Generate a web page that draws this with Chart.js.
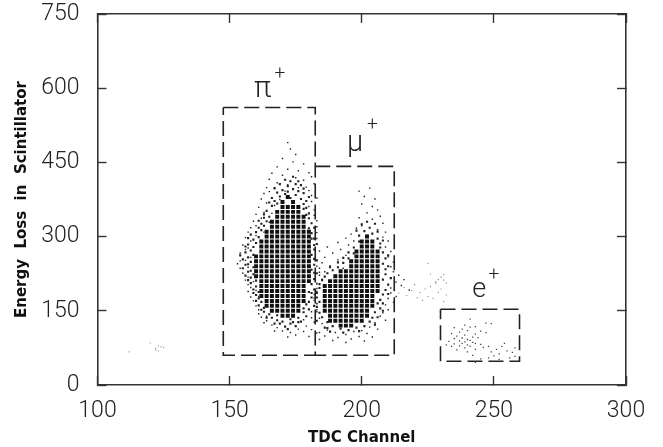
<!DOCTYPE html>
<html>
<head>
<meta charset="utf-8">
<title>TDC Channel vs Energy Loss</title>
<script src="https://cdn.jsdelivr.net/npm/chart.js@4"></script>
<style>
  html, body { margin: 0; padding: 0; background: #fff; }
  canvas { display: block; }
</style>
</head>
<body>
<canvas id="scatter" width="663" height="447"></canvas>
<script>
const xTicks = [100, 150, 200, 250, 300];
const yTicks = [0, 150, 300, 450, 600, 750];

// dashed selection boxes
const pionBoxX = [147.6, 182.4, 182.4, 147.6, 147.6];
const pionBoxY = [561, 561, 60, 60, 561];
const muonBoxX = [182.4, 212.3, 212.3, 182.4];
const muonBoxY = [442, 442, 60, 60];
const positronBoxX = [229.8, 259.7, 259.7, 229.8, 229.8];
const positronBoxY = [153, 153, 48, 48, 153];

// dense parts of the two blobs, read as [energy, channels...] per row
const pionCore = [
  [380, 172],
  [370, 170, 174],
  [360, 170, 172, 174, 176],
  [350, 168, 170, 172, 174, 176],
  [340, 168, 170, 172, 174, 176, 178],
  [330, 166, 168, 170, 172, 174, 176, 178],
  [320, 166, 168, 170, 172, 174, 176, 178],
  [310, 164, 166, 168, 170, 172, 174, 176, 178, 180],
  [300, 164, 166, 168, 170, 172, 174, 176, 178, 180],
  [290, 162, 164, 166, 168, 170, 172, 174, 176, 178, 180],
  [280, 162, 164, 166, 168, 170, 172, 174, 176, 178, 180],
  [270, 162, 164, 166, 168, 170, 172, 174, 176, 178, 180],
  [260, 160, 162, 164, 166, 168, 170, 172, 174, 176, 178, 180],
  [250, 160, 162, 164, 166, 168, 170, 172, 174, 176, 178, 180],
  [240, 160, 162, 164, 166, 168, 170, 172, 174, 176, 178, 180],
  [230, 160, 162, 164, 166, 168, 170, 172, 174, 176, 178, 180],
  [220, 160, 162, 164, 166, 168, 170, 172, 174, 176, 178, 180],
  [210, 162, 164, 166, 168, 170, 172, 174, 176, 178, 180],
  [200, 162, 164, 166, 168, 170, 172, 174, 176, 178],
  [190, 162, 164, 166, 168, 170, 172, 174, 176, 178],
  [180, 162, 164, 166, 168, 170, 172, 174, 176, 178],
  [170, 164, 166, 168, 170, 172, 174, 176, 178],
  [160, 164, 166, 168, 170, 172, 174, 176],
  [150, 166, 168, 170, 172, 174, 176],
  [140, 170, 172, 174]
];
const muonCore = [
  [300, 202],
  [290, 200, 202, 204],
  [280, 200, 202, 204],
  [270, 198, 200, 202, 204, 206],
  [260, 198, 200, 202, 204, 206],
  [250, 196, 198, 200, 202, 204, 206],
  [240, 196, 198, 200, 202, 204, 206],
  [230, 192, 194, 196, 198, 200, 202, 204, 206],
  [220, 190, 192, 194, 196, 198, 200, 202, 204, 206],
  [210, 188, 190, 192, 194, 196, 198, 200, 202, 204, 206],
  [200, 186, 188, 190, 192, 194, 196, 198, 200, 202, 204, 206],
  [190, 186, 188, 190, 192, 194, 196, 198, 200, 202, 204, 206],
  [180, 186, 188, 190, 192, 194, 196, 198, 200, 202, 204],
  [170, 186, 188, 190, 192, 194, 196, 198, 200, 202, 204],
  [160, 186, 188, 190, 192, 194, 196, 198, 200, 202, 204],
  [150, 186, 188, 190, 192, 194, 196, 198, 200, 202],
  [140, 188, 190, 192, 194, 196, 198, 200, 202],
  [130, 188, 190, 192, 194, 196, 198, 200],
  [120, 192, 194, 196]
];

// speckle along the edge of the dense parts
const pionEdge = [
  [164, 352], [165, 340], [163, 338], [166, 362], [162, 326], [164, 331], [161, 318], [163, 322], [160, 309], [162, 313],
  [158, 304], [161, 299], [159, 294], [160, 287], [157, 284], [159, 279], [158, 272], [156, 268], [159, 263], [157, 258],
  [155, 254], [158, 249], [156, 243], [159, 238], [155, 236], [157, 229], [159, 224], [158, 217], [156, 221], [160, 211],
  [158, 206], [160, 199], [159, 193], [161, 188], [160, 182], [161, 175], [162, 168], [161, 161], [163, 156], [163, 148],
  [165, 143], [166, 136], [168, 131], [167, 124], [182, 318], [181, 307], [182, 296], [183, 285], [182, 274], [181, 263],
  [183, 252], [182, 243], [181, 233], [183, 226], [182, 214], [181, 204], [182, 193], [180, 188], [181, 177], [180, 168],
  [182, 160], [180, 153], [178, 147], [179, 139], [176, 136], [177, 128], [174, 127], [181, 327], [180, 337], [180, 347],
  [179, 358], [178, 366], [167, 372], [169, 381], [171, 386], [173, 378], [175, 384], [177, 376], [170, 394], [172, 402],
  [174, 396], [176, 392], [168, 389], [178, 388], [173, 412], [175, 406], [171, 415], [177, 404], [179, 372], [166, 378],
  [169, 124], [171, 118], [173, 124], [172, 113], [175, 119], [170, 128], [167, 398], [169, 406], [172, 391], [176, 412],
  [174, 421], [178, 397], [180, 380], [165, 369], [168, 367], [178, 356], [179, 344], [163, 345], [161, 332], [180, 317],
  [157, 297], [156, 280], [154, 262], [157, 244], [158, 231], [157, 212], [159, 186], [160, 170], [162, 152], [164, 136],
  [181, 296], [182, 283], [182, 255], [182, 227], [181, 186], [179, 163], [178, 155], [176, 127], [173, 133], [168, 141]
];
const muonEdge = [
  [184, 196], [183, 186], [184, 204], [185, 212], [186, 219], [187, 226], [189, 232], [191, 238], [193, 247], [195, 256],
  [197, 266], [197, 278], [199, 290], [199, 302], [201, 311], [204, 306], [206, 296], [207, 286], [203, 318], [205, 326],
  [202, 330], [207, 278], [208, 268], [209, 256], [208, 245], [209, 234], [209, 224], [208, 213], [210, 203], [209, 192],
  [208, 183], [207, 172], [206, 165], [207, 155], [205, 147], [204, 136], [203, 128], [201, 119], [198, 116], [195, 111],
  [192, 114], [189, 119], [187, 127], [185, 137], [184, 146], [183, 158], [184, 168], [183, 177], [188, 108], [186, 116],
  [193, 257], [191, 248], [188, 238], [195, 268], [198, 312], [200, 325], [206, 310], [208, 292], [210, 262], [210, 240],
  [211, 216], [210, 184], [208, 165], [208, 150], [206, 137], [205, 122], [199, 109], [193, 106], [187, 115], [183, 130]
];

// loose points round the blobs
const pionHalo = [
  [172, 490], [173, 477], [175, 466], [170, 458], [174, 451], [178, 447], [168, 441], [172, 436], [176, 433], [180, 429],
  [166, 428], [170, 424], [175, 419], [178, 414], [181, 421], [165, 416], [168, 409], [172, 405], [179, 400], [182, 407],
  [164, 399], [167, 397], [171, 392], [176, 399], [180, 393], [163, 387], [165, 391], [169, 375], [174, 371], [181, 383],
  [162, 376], [164, 368], [167, 363], [181, 371], [183, 378], [161, 359], [163, 349], [166, 347], [180, 361], [182, 354],
  [160, 345], [162, 337], [165, 329], [182, 343], [183, 332], [159, 331], [160, 322], [163, 309], [183, 320], [158, 318],
  [157, 309], [160, 302], [183, 308], [156, 298], [158, 291], [157, 277], [183, 296], [155, 283], [156, 274], [154, 267],
  [158, 258], [184, 271], [154, 251], [153, 245], [156, 252], [157, 238], [183, 240], [154, 236], [155, 226], [157, 218],
  [184, 228], [156, 212], [157, 203], [159, 209], [183, 204], [158, 197], [157, 189], [160, 191], [183, 189], [158, 178],
  [159, 170], [161, 179], [182, 176], [160, 160], [161, 152], [183, 165], [161, 144], [164, 139], [162, 137], [181, 148],
  [183, 152], [164, 130], [166, 121], [163, 126], [178, 132], [181, 136], [168, 116], [170, 109], [173, 106], [176, 113],
  [179, 119], [182, 127], [167, 109], [175, 101], [178, 108], [181, 112], [172, 97], [180, 98], [183, 105], [184, 92]
];
const muonHalo = [
  [203, 398], [199, 392], [201, 381], [205, 376], [200, 366], [204, 361], [206, 354], [202, 348], [207, 341], [199, 338],
  [204, 335], [208, 327], [200, 322], [198, 317], [206, 314], [209, 309], [196, 305], [202, 303], [208, 299], [194, 297],
  [197, 291], [210, 291], [191, 288], [195, 283], [209, 279], [187, 279], [192, 274], [211, 270], [189, 267], [194, 262],
  [210, 259], [186, 258], [191, 253], [212, 248], [185, 247], [188, 241], [193, 236], [211, 239], [184, 236], [186, 229],
  [212, 229], [214, 222], [184, 222], [185, 214], [211, 217], [213, 208], [216, 213], [183, 206], [211, 196], [215, 201],
  [183, 195], [182, 183], [211, 186], [213, 179], [218, 192], [182, 171], [210, 175], [212, 167], [209, 162], [183, 164],
  [210, 152], [208, 146], [183, 148], [184, 135], [207, 139], [209, 131], [205, 126], [185, 124], [203, 117], [206, 113],
  [187, 111], [190, 106], [194, 102], [197, 108], [200, 110], [202, 104], [186, 99], [191, 96], [196, 93], [199, 98],
  [204, 97], [184, 106], [189, 90], [194, 86], [201, 89]
];
const positronPoints = [
  [241, 133], [247, 125], [249, 124], [239, 121], [243, 118], [235, 116], [238, 113], [241, 117], [245, 109], [237, 107],
  [240, 110], [243, 103], [247, 106], [234, 104], [236, 99], [239, 101], [242, 97], [238, 95], [240, 92], [244, 96],
  [235, 94], [237, 89], [239, 87], [241, 90], [243, 84], [233, 88], [235, 83], [238, 84], [240, 81], [242, 86],
  [245, 82], [232, 81], [234, 78], [237, 79], [239, 75], [241, 78], [243, 72], [246, 76], [240, 67], [242, 60],
  [236, 71], [248, 78], [249, 67], [251, 72], [252, 63], [250, 59], [253, 78], [255, 69], [257, 66], [254, 84],
  [248, 55], [245, 53], [243, 46], [256, 55], [258, 58], [252, 52], [258, 75]
];
// pale scatter between the boxes and at the far left
const bridgePoints = [
  [214, 186], [216, 197], [217, 181], [219, 191], [220, 203], [221, 176], [222, 187], [223, 171], [224, 194], [225, 179],
  [226, 199], [227, 175], [228, 206], [229, 187], [230, 194], [231, 169], [225, 246], [226, 224], [228, 209], [229, 213],
  [230, 218], [231, 212], [232, 206], [232, 182], [231, 223]
];
const farLeftPoints = [
  [112, 67], [120, 85], [122, 71], [123, 69], [124, 77], [125, 76], [123, 79], [122, 74]
];

// annotations: [text, channel, energy, font size]
const annotations = [
  ['\u03c0', 162.5, 597, 29],
  ['+', 169, 628, 19],
  ['\u03bc', 197.5, 488, 29],
  ['+', 204, 525, 19],
  ['e', 244.5, 192, 27],
  ['+', 250, 222, 19]
];

const thinFont = 'Roboto';
const boldFont = '"DejaVu Sans"';

const toPoints = (xs, ys) => xs.map((x, i) => ({ x: x, y: ys[i] }));
const pairsToPoints = (pairs) => pairs.map((p) => ({ x: p[0], y: p[1] }));
const rowsToPoints = (rows) => {
  const pts = [];
  rows.forEach((row) => {
    row.slice(1).forEach((x) => pts.push({ x: x, y: row[0] }));
  });
  return pts;
};

const boxDataset = (xs, ys) => ({
  type: 'line',
  data: toPoints(xs, ys),
  borderColor: '#222',
  borderWidth: 1.6,
  borderDash: [15, 6],
  pointRadius: 0,
  fill: false,
  tension: 0
});

const dotDataset = (points, colour, radius) => ({
  data: points,
  pointStyle: 'rect',
  pointRadius: radius,
  pointBorderWidth: 0,
  backgroundColor: colour,
  borderColor: colour
});

const inwardTicks = {
  drawOnChartArea: false,
  drawTicks: true,
  tickLength: -9,
  tickWidth: 1.4,
  tickColor: '#333'
};
const axisBorder = { display: true, color: '#333', width: 1.6 };

const annotationPlugin = {
  id: 'annotationText',
  afterDraw(chart) {
    const c = chart.ctx;
    c.save();
    c.fillStyle = '#222';
    c.textAlign = 'center';
    c.textBaseline = 'middle';
    annotations.forEach((a) => {
      c.font = '300 ' + a[3] + 'px ' + thinFont;
      c.fillText(a[0], chart.scales.x.getPixelForValue(a[1]), chart.scales.y.getPixelForValue(a[2]));
    });
    c.restore();
  }
};

new Chart(document.getElementById('scatter').getContext('2d'), {
  type: 'scatter',
  data: {
    datasets: [
      dotDataset(pairsToPoints(farLeftPoints), '#999', 0.8),
      dotDataset(pairsToPoints(bridgePoints), '#888', 0.8),
      dotDataset(pairsToPoints(pionHalo), '#222', 1),
      dotDataset(pairsToPoints(muonHalo), '#222', 1),
      dotDataset(pairsToPoints(pionEdge), '#222', 1.5),
      dotDataset(pairsToPoints(muonEdge), '#222', 1.5),
      dotDataset(rowsToPoints(pionCore), '#111', 2.8),
      dotDataset(rowsToPoints(muonCore), '#111', 2.8),
      dotDataset(pairsToPoints(positronPoints), '#444', 0.9),
      boxDataset(pionBoxX, pionBoxY),
      boxDataset(muonBoxX, muonBoxY),
      boxDataset(positronBoxX, positronBoxY)
    ]
  },
  plugins: [annotationPlugin],
  options: {
    responsive: false,
    animation: false,
    events: [],
    layout: { padding: { top: 14, right: 37, bottom: 0, left: 0 } },
    plugins: { legend: { display: false }, tooltip: { enabled: false } },
    scales: {
      x: {
        type: 'linear',
        min: 100,
        max: 300,
        afterBuildTicks: (s) => { s.ticks = xTicks.map((v) => ({ value: v })); },
        afterFit: (s) => { s.height = 62; s.paddingLeft = 0; s.paddingRight = 0; },
        border: axisBorder,
        grid: inwardTicks,
        ticks: { padding: 21, maxRotation: 0, color: '#222', font: { family: thinFont, size: 23, weight: 300 } },
        title: {
          display: true,
          text: 'TDC Channel',
          color: '#111',
          padding: { top: 0, bottom: 0 },
          font: { family: boldFont, size: 15, weight: 'bold' }
        }
      },
      y: {
        type: 'linear',
        min: 0,
        max: 750,
        afterBuildTicks: (s) => { s.ticks = yTicks.map((v) => ({ value: v })); },
        afterFit: (s) => { s.width = 97.5; s.paddingTop = 0; s.paddingBottom = 0; },
        border: axisBorder,
        grid: inwardTicks,
        ticks: { padding: 27, color: '#222', font: { family: thinFont, size: 23, weight: 300 } },
        title: {
          display: true,
          text: 'Energy  Loss  in  Scintillator',
          color: '#111',
          padding: { top: 13, bottom: 0 },
          font: { family: boldFont, size: 15, weight: 'bold' }
        }
      },
      x2: {
        type: 'linear',
        position: 'top',
        min: 100,
        max: 300,
        afterBuildTicks: (s) => { s.ticks = xTicks.map((v) => ({ value: v })); },
        afterFit: (s) => { s.height = 0; s.paddingLeft = 0; s.paddingRight = 0; },
        border: axisBorder,
        grid: inwardTicks,
        ticks: { display: false }
      },
      y2: {
        type: 'linear',
        position: 'right',
        min: 0,
        max: 750,
        afterBuildTicks: (s) => { s.ticks = yTicks.map((v) => ({ value: v })); },
        afterFit: (s) => { s.width = 0; s.paddingTop = 0; s.paddingBottom = 0; },
        border: axisBorder,
        grid: inwardTicks,
        ticks: { display: false }
      }
    }
  }
});
</script>
</body>
</html>
